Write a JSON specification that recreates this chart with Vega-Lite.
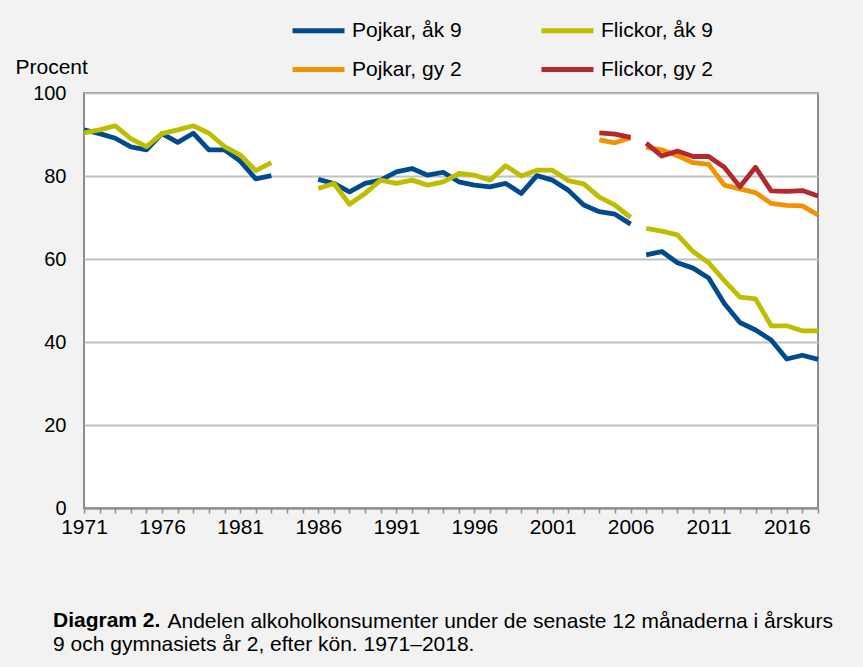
{
  "$schema": "https://vega.github.io/schema/vega-lite/v6.json",
  "width": 734,
  "height": 415,
  "autosize": {"type": "none"},
  "padding": {"left": 84, "top": 93, "right": 45, "bottom": 159},
  "background": "#f2f2f2",
  "config": {
    "font": "Liberation Sans",
    "view": {"fill": "#ffffff", "stroke": "#8c8c8c", "strokeWidth": 2}
  },
  "title": {
    "text": "Diagram 2.",
    "subtitle": "9 och gymnasiets år 2, efter kön. 1971–2018.",
    "orient": "bottom",
    "anchor": "start",
    "frame": "group",
    "dx": -31,
    "offset": -21,
    "font": "Liberation Sans",
    "fontSize": 21,
    "fontWeight": "bold",
    "color": "#000000",
    "subtitleFont": "Liberation Sans",
    "subtitleFontSize": 21,
    "subtitleColor": "#000000",
    "subtitlePadding": 3
  },
  "data": {
    "values": [
      {"series": "Pojkar, åk 9", "seg": "a", "year": 1971, "value": 91.1},
      {"series": "Pojkar, åk 9", "seg": "a", "year": 1972, "value": 90.2},
      {"series": "Pojkar, åk 9", "seg": "a", "year": 1973, "value": 89.1},
      {"series": "Pojkar, åk 9", "seg": "a", "year": 1974, "value": 87.0},
      {"series": "Pojkar, åk 9", "seg": "a", "year": 1975, "value": 86.3},
      {"series": "Pojkar, åk 9", "seg": "a", "year": 1976, "value": 90.2},
      {"series": "Pojkar, åk 9", "seg": "a", "year": 1977, "value": 88.1},
      {"series": "Pojkar, åk 9", "seg": "a", "year": 1978, "value": 90.3},
      {"series": "Pojkar, åk 9", "seg": "a", "year": 1979, "value": 86.3},
      {"series": "Pojkar, åk 9", "seg": "a", "year": 1980, "value": 86.3},
      {"series": "Pojkar, åk 9", "seg": "a", "year": 1981, "value": 83.6},
      {"series": "Pojkar, åk 9", "seg": "a", "year": 1982, "value": 79.3},
      {"series": "Pojkar, åk 9", "seg": "a", "year": 1983, "value": 80.1},
      {"series": "Pojkar, åk 9", "seg": "b", "year": 1986, "value": 79.2},
      {"series": "Pojkar, åk 9", "seg": "b", "year": 1987, "value": 78.2},
      {"series": "Pojkar, åk 9", "seg": "b", "year": 1988, "value": 76.2},
      {"series": "Pojkar, åk 9", "seg": "b", "year": 1989, "value": 78.2},
      {"series": "Pojkar, åk 9", "seg": "b", "year": 1990, "value": 79.0},
      {"series": "Pojkar, åk 9", "seg": "b", "year": 1991, "value": 81.0},
      {"series": "Pojkar, åk 9", "seg": "b", "year": 1992, "value": 81.8},
      {"series": "Pojkar, åk 9", "seg": "b", "year": 1993, "value": 80.2},
      {"series": "Pojkar, åk 9", "seg": "b", "year": 1994, "value": 80.9},
      {"series": "Pojkar, åk 9", "seg": "b", "year": 1995, "value": 78.6},
      {"series": "Pojkar, åk 9", "seg": "b", "year": 1996, "value": 77.8},
      {"series": "Pojkar, åk 9", "seg": "b", "year": 1997, "value": 77.4},
      {"series": "Pojkar, åk 9", "seg": "b", "year": 1998, "value": 78.2},
      {"series": "Pojkar, åk 9", "seg": "b", "year": 1999, "value": 75.8},
      {"series": "Pojkar, åk 9", "seg": "b", "year": 2000, "value": 80.1},
      {"series": "Pojkar, åk 9", "seg": "b", "year": 2001, "value": 79.0},
      {"series": "Pojkar, åk 9", "seg": "b", "year": 2002, "value": 76.6},
      {"series": "Pojkar, åk 9", "seg": "b", "year": 2003, "value": 73.0},
      {"series": "Pojkar, åk 9", "seg": "b", "year": 2004, "value": 71.4},
      {"series": "Pojkar, åk 9", "seg": "b", "year": 2005, "value": 70.8},
      {"series": "Pojkar, åk 9", "seg": "b", "year": 2006, "value": 68.4},
      {"series": "Pojkar, åk 9", "seg": "c", "year": 2007, "value": 61.0},
      {"series": "Pojkar, åk 9", "seg": "c", "year": 2008, "value": 61.8},
      {"series": "Pojkar, åk 9", "seg": "c", "year": 2009, "value": 59.1},
      {"series": "Pojkar, åk 9", "seg": "c", "year": 2010, "value": 57.8},
      {"series": "Pojkar, åk 9", "seg": "c", "year": 2011, "value": 55.4},
      {"series": "Pojkar, åk 9", "seg": "c", "year": 2012, "value": 49.3},
      {"series": "Pojkar, åk 9", "seg": "c", "year": 2013, "value": 44.7},
      {"series": "Pojkar, åk 9", "seg": "c", "year": 2014, "value": 42.9},
      {"series": "Pojkar, åk 9", "seg": "c", "year": 2015, "value": 40.5},
      {"series": "Pojkar, åk 9", "seg": "c", "year": 2016, "value": 35.9},
      {"series": "Pojkar, åk 9", "seg": "c", "year": 2017, "value": 36.8},
      {"series": "Pojkar, åk 9", "seg": "c", "year": 2018, "value": 35.8},
      {"series": "Flickor, åk 9", "seg": "a", "year": 1971, "value": 90.4},
      {"series": "Flickor, åk 9", "seg": "a", "year": 1972, "value": 91.1},
      {"series": "Flickor, åk 9", "seg": "a", "year": 1973, "value": 92.1},
      {"series": "Flickor, åk 9", "seg": "a", "year": 1974, "value": 89.0},
      {"series": "Flickor, åk 9", "seg": "a", "year": 1975, "value": 87.1},
      {"series": "Flickor, åk 9", "seg": "a", "year": 1976, "value": 90.2},
      {"series": "Flickor, åk 9", "seg": "a", "year": 1977, "value": 91.1},
      {"series": "Flickor, åk 9", "seg": "a", "year": 1978, "value": 92.1},
      {"series": "Flickor, åk 9", "seg": "a", "year": 1979, "value": 90.3},
      {"series": "Flickor, åk 9", "seg": "a", "year": 1980, "value": 87.1},
      {"series": "Flickor, åk 9", "seg": "a", "year": 1981, "value": 85.1},
      {"series": "Flickor, åk 9", "seg": "a", "year": 1982, "value": 81.3},
      {"series": "Flickor, åk 9", "seg": "a", "year": 1983, "value": 83.2},
      {"series": "Flickor, åk 9", "seg": "b", "year": 1986, "value": 77.0},
      {"series": "Flickor, åk 9", "seg": "b", "year": 1987, "value": 78.2},
      {"series": "Flickor, åk 9", "seg": "b", "year": 1988, "value": 73.2},
      {"series": "Flickor, åk 9", "seg": "b", "year": 1989, "value": 75.8},
      {"series": "Flickor, åk 9", "seg": "b", "year": 1990, "value": 79.0},
      {"series": "Flickor, åk 9", "seg": "b", "year": 1991, "value": 78.2},
      {"series": "Flickor, åk 9", "seg": "b", "year": 1992, "value": 79.0},
      {"series": "Flickor, åk 9", "seg": "b", "year": 1993, "value": 77.8},
      {"series": "Flickor, åk 9", "seg": "b", "year": 1994, "value": 78.6},
      {"series": "Flickor, åk 9", "seg": "b", "year": 1995, "value": 80.6},
      {"series": "Flickor, åk 9", "seg": "b", "year": 1996, "value": 80.2},
      {"series": "Flickor, åk 9", "seg": "b", "year": 1997, "value": 79.0},
      {"series": "Flickor, åk 9", "seg": "b", "year": 1998, "value": 82.5},
      {"series": "Flickor, åk 9", "seg": "b", "year": 1999, "value": 80.0},
      {"series": "Flickor, åk 9", "seg": "b", "year": 2000, "value": 81.4},
      {"series": "Flickor, åk 9", "seg": "b", "year": 2001, "value": 81.4},
      {"series": "Flickor, åk 9", "seg": "b", "year": 2002, "value": 78.9},
      {"series": "Flickor, åk 9", "seg": "b", "year": 2003, "value": 78.1},
      {"series": "Flickor, åk 9", "seg": "b", "year": 2004, "value": 74.9},
      {"series": "Flickor, åk 9", "seg": "b", "year": 2005, "value": 73.0},
      {"series": "Flickor, åk 9", "seg": "b", "year": 2006, "value": 70.0},
      {"series": "Flickor, åk 9", "seg": "c", "year": 2007, "value": 67.4},
      {"series": "Flickor, åk 9", "seg": "c", "year": 2008, "value": 66.7},
      {"series": "Flickor, åk 9", "seg": "c", "year": 2009, "value": 65.8},
      {"series": "Flickor, åk 9", "seg": "c", "year": 2010, "value": 61.8},
      {"series": "Flickor, åk 9", "seg": "c", "year": 2011, "value": 59.1},
      {"series": "Flickor, åk 9", "seg": "c", "year": 2012, "value": 54.8},
      {"series": "Flickor, åk 9", "seg": "c", "year": 2013, "value": 50.8},
      {"series": "Flickor, åk 9", "seg": "c", "year": 2014, "value": 50.4},
      {"series": "Flickor, åk 9", "seg": "c", "year": 2015, "value": 43.9},
      {"series": "Flickor, åk 9", "seg": "c", "year": 2016, "value": 43.9},
      {"series": "Flickor, åk 9", "seg": "c", "year": 2017, "value": 42.7},
      {"series": "Flickor, åk 9", "seg": "c", "year": 2018, "value": 42.7},
      {"series": "Pojkar, gy 2", "seg": "b", "year": 2004, "value": 88.7},
      {"series": "Pojkar, gy 2", "seg": "b", "year": 2005, "value": 88.0},
      {"series": "Pojkar, gy 2", "seg": "b", "year": 2006, "value": 89.2},
      {"series": "Pojkar, gy 2", "seg": "c", "year": 2007, "value": 86.9},
      {"series": "Pojkar, gy 2", "seg": "c", "year": 2008, "value": 86.3},
      {"series": "Pojkar, gy 2", "seg": "c", "year": 2009, "value": 84.9},
      {"series": "Pojkar, gy 2", "seg": "c", "year": 2010, "value": 83.2},
      {"series": "Pojkar, gy 2", "seg": "c", "year": 2011, "value": 82.8},
      {"series": "Pojkar, gy 2", "seg": "c", "year": 2012, "value": 77.8},
      {"series": "Pojkar, gy 2", "seg": "c", "year": 2013, "value": 76.9},
      {"series": "Pojkar, gy 2", "seg": "c", "year": 2014, "value": 76.0},
      {"series": "Pojkar, gy 2", "seg": "c", "year": 2015, "value": 73.4},
      {"series": "Pojkar, gy 2", "seg": "c", "year": 2016, "value": 72.9},
      {"series": "Pojkar, gy 2", "seg": "c", "year": 2017, "value": 72.8},
      {"series": "Pojkar, gy 2", "seg": "c", "year": 2018, "value": 70.6},
      {"series": "Flickor, gy 2", "seg": "b", "year": 2004, "value": 90.4},
      {"series": "Flickor, gy 2", "seg": "b", "year": 2005, "value": 90.1},
      {"series": "Flickor, gy 2", "seg": "b", "year": 2006, "value": 89.3},
      {"series": "Flickor, gy 2", "seg": "c", "year": 2007, "value": 87.9},
      {"series": "Flickor, gy 2", "seg": "c", "year": 2008, "value": 84.8},
      {"series": "Flickor, gy 2", "seg": "c", "year": 2009, "value": 86.0},
      {"series": "Flickor, gy 2", "seg": "c", "year": 2010, "value": 84.7},
      {"series": "Flickor, gy 2", "seg": "c", "year": 2011, "value": 84.7},
      {"series": "Flickor, gy 2", "seg": "c", "year": 2012, "value": 82.1},
      {"series": "Flickor, gy 2", "seg": "c", "year": 2013, "value": 77.4},
      {"series": "Flickor, gy 2", "seg": "c", "year": 2014, "value": 82.1},
      {"series": "Flickor, gy 2", "seg": "c", "year": 2015, "value": 76.4},
      {"series": "Flickor, gy 2", "seg": "c", "year": 2016, "value": 76.3},
      {"series": "Flickor, gy 2", "seg": "c", "year": 2017, "value": 76.5},
      {"series": "Flickor, gy 2", "seg": "c", "year": 2018, "value": 75.2}
    ]
  },
  "mark": {"type": "line", "strokeWidth": 4.8, "strokeJoin": "round", "strokeCap": "butt"},
  "encoding": {
    "x": {
      "field": "year",
      "type": "quantitative",
      "scale": {"domain": [1971, 2018], "nice": false, "zero": false},
      "axis": {
        "title": "Andelen alkoholkonsumenter under de senaste 12 månaderna i årskurs",
        "titleX": 83,
        "titleY": 113,
        "titleAlign": "left",
        "titleAnchor": "start",
        "titleBaseline": "middle",
        "titleFont": "Liberation Sans",
        "titleFontSize": 21,
        "titleFontWeight": "normal",
        "titleColor": "#000000",
        "values": [1971,1972,1973,1974,1975,1976,1977,1978,1979,1980,1981,1982,1983,1984,1985,1986,1987,1988,1989,1990,1991,1992,1993,1994,1995,1996,1997,1998,1999,2000,2001,2002,2003,2004,2005,2006,2007,2008,2009,2010,2011,2012,2013,2014,2015,2016,2017,2018],
        "labelExpr": "(datum.value - 1971) % 5 === 0 ? '' + datum.value : ''",
        "labelOverlap": false,
        "labelFlush": false,
        "labelBound": false,
        "grid": false,
        "domainColor": "#8c8c8c",
        "domainWidth": 2,
        "tickColor": "#8c8c8c",
        "tickWidth": 1.5,
        "tickSize": 5,
        "labelPadding": 3,
        "labelFontSize": 21,
        "labelColor": "#000000",
        "labelFont": "Liberation Sans"
      }
    },
    "y": {
      "field": "value",
      "type": "quantitative",
      "scale": {"domain": [0, 100], "nice": false},
      "axis": {
        "title": "Procent",
        "titleAngle": 0,
        "titleAlign": "left",
        "titleBaseline": "middle",
        "titleX": -69,
        "titleY": -26,
        "titleFont": "Liberation Sans",
        "titleFontSize": 21,
        "titleFontWeight": "normal",
        "titleColor": "#000000",
        "values": [0, 20, 40, 60, 80, 100],
        "ticks": false,
        "domain": false,
        "labelPadding": 18,
        "labelFontSize": 20,
        "labelColor": "#000000",
        "labelFont": "Liberation Sans",
        "grid": true,
        "gridColor": "#c0c0c0",
        "gridWidth": 2
      }
    },
    "color": {
      "field": "series",
      "type": "nominal",
      "scale": {
        "domain": ["Pojkar, åk 9", "Flickor, åk 9", "Pojkar, gy 2", "Flickor, gy 2"],
        "range": ["#004b8d", "#bebe00", "#f39200", "#b3282d"]
      },
      "legend": {
        "orient": "none",
        "legendX": 206,
        "legendY": -91,
        "direction": "horizontal",
        "columns": 2,
        "title": null,
        "padding": 0,
        "symbolType": "stroke",
        "symbolStrokeWidth": 5,
        "symbolSize": 2704,
        "labelFontSize": 21,
        "labelFont": "Liberation Sans",
        "labelColor": "#000000",
        "labelOffset": 5,
        "columnPadding": 69,
        "rowPadding": -19
      }
    },
    "detail": {"field": "seg", "type": "nominal"}
  }
}
